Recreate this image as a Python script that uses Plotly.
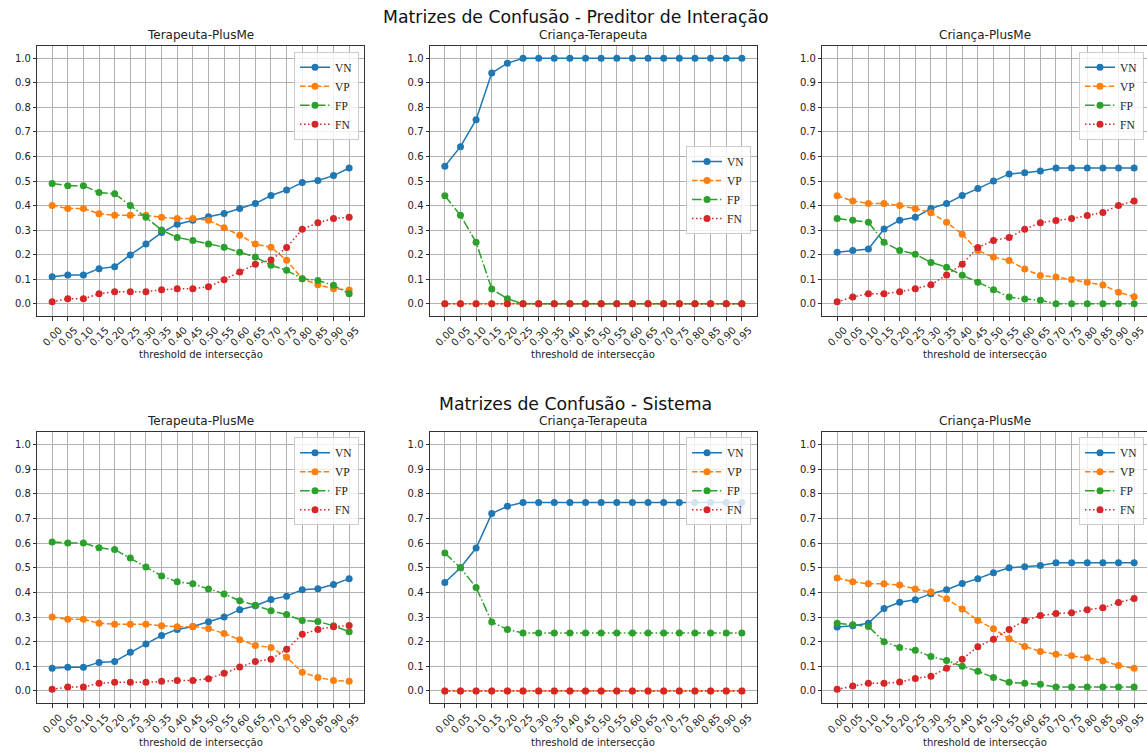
import plotly.graph_objects as go

# Intersection thresholds (x categories)
thresholds = [0.00, 0.05, 0.10, 0.15, 0.20, 0.25, 0.30, 0.35, 0.40, 0.45,
              0.50, 0.55, 0.60, 0.65, 0.70, 0.75, 0.80, 0.85, 0.90, 0.95]
tick_labels = ["0.00", "0.05", "0.10", "0.15", "0.20", "0.25", "0.30", "0.35", "0.40", "0.45",
               "0.50", "0.55", "0.60", "0.65", "0.70", "0.75", "0.80", "0.85", "0.90", "0.95"]
y_ticks = [0.0, 0.1, 0.2, 0.3, 0.4, 0.5, 0.6, 0.7, 0.8, 0.9, 1.0]

# --- Preditor de Interação ---
pi_tp_vn = [0.110, 0.117, 0.117, 0.143, 0.151, 0.199, 0.243, 0.290, 0.324, 0.340,
            0.354, 0.368, 0.388, 0.408, 0.441, 0.463, 0.494, 0.502, 0.522, 0.553]
pi_tp_vp = [0.400, 0.388, 0.388, 0.367, 0.360, 0.360, 0.360, 0.352, 0.347, 0.347,
            0.340, 0.310, 0.279, 0.243, 0.230, 0.177, 0.102, 0.077, 0.061, 0.056]
pi_tp_fp = [0.490, 0.481, 0.481, 0.453, 0.448, 0.400, 0.352, 0.300, 0.270, 0.258,
            0.243, 0.230, 0.210, 0.190, 0.157, 0.136, 0.102, 0.095, 0.075, 0.041]
pi_tp_fn = [0.008, 0.020, 0.020, 0.041, 0.049, 0.049, 0.049, 0.057, 0.061, 0.061,
            0.069, 0.098, 0.129, 0.161, 0.178, 0.229, 0.303, 0.330, 0.347, 0.352]

pi_ct_vn = [0.56, 0.64, 0.75, 0.94, 0.98, 1.00, 1.00, 1.00, 1.00, 1.00,
            1.00, 1.00, 1.00, 1.00, 1.00, 1.00, 1.00, 1.00, 1.00, 1.00]
pi_ct_vp = [0.0, 0.0, 0.0, 0.0, 0.0, 0.0, 0.0, 0.0, 0.0, 0.0,
            0.0, 0.0, 0.0, 0.0, 0.0, 0.0, 0.0, 0.0, 0.0, 0.0]
pi_ct_fp = [0.44, 0.36, 0.25, 0.06, 0.02, 0.0, 0.0, 0.0, 0.0, 0.0,
            0.0, 0.0, 0.0, 0.0, 0.0, 0.0, 0.0, 0.0, 0.0, 0.0]
pi_ct_fn = [0.0, 0.0, 0.0, 0.0, 0.0, 0.0, 0.0, 0.0, 0.0, 0.0,
            0.0, 0.0, 0.0, 0.0, 0.0, 0.0, 0.0, 0.0, 0.0, 0.0]

pi_cp_vn = [0.210, 0.217, 0.223, 0.304, 0.340, 0.352, 0.388, 0.408, 0.441, 0.469,
            0.500, 0.529, 0.534, 0.541, 0.553, 0.553, 0.553, 0.553, 0.553, 0.553]
pi_cp_vp = [0.440, 0.419, 0.408, 0.408, 0.400, 0.388, 0.371, 0.332, 0.283, 0.217,
            0.190, 0.176, 0.141, 0.115, 0.109, 0.099, 0.088, 0.076, 0.047, 0.028]
pi_cp_fp = [0.347, 0.340, 0.332, 0.250, 0.217, 0.202, 0.168, 0.149, 0.116, 0.088,
            0.057, 0.027, 0.019, 0.014, 0.000, 0.000, 0.000, 0.000, 0.000, 0.000]
pi_cp_fn = [0.008, 0.027, 0.041, 0.041, 0.049, 0.061, 0.077, 0.117, 0.161, 0.229,
            0.258, 0.270, 0.303, 0.330, 0.339, 0.347, 0.359, 0.372, 0.400, 0.419]

# --- Sistema ---
si_tp_vn = [0.092, 0.096, 0.096, 0.116, 0.120, 0.157, 0.191, 0.225, 0.250, 0.262,
            0.281, 0.300, 0.330, 0.346, 0.371, 0.385, 0.411, 0.415, 0.432, 0.456]
si_tp_vp = [0.300, 0.291, 0.291, 0.275, 0.271, 0.271, 0.271, 0.265, 0.261, 0.261,
            0.254, 0.233, 0.208, 0.185, 0.177, 0.137, 0.076, 0.055, 0.043, 0.039]
si_tp_fp = [0.605, 0.601, 0.601, 0.581, 0.574, 0.540, 0.503, 0.467, 0.443, 0.435,
            0.414, 0.394, 0.366, 0.348, 0.326, 0.310, 0.286, 0.282, 0.265, 0.240]
si_tp_fn = [0.007, 0.016, 0.016, 0.031, 0.035, 0.035, 0.035, 0.039, 0.043, 0.043,
            0.050, 0.072, 0.097, 0.120, 0.129, 0.169, 0.230, 0.250, 0.261, 0.266]

si_ct_vn = [0.44, 0.50, 0.58, 0.72, 0.75, 0.765, 0.765, 0.765, 0.765, 0.765,
            0.765, 0.765, 0.765, 0.765, 0.765, 0.765, 0.765, 0.765, 0.765, 0.765]
si_ct_vp = [0.0, 0.0, 0.0, 0.0, 0.0, 0.0, 0.0, 0.0, 0.0, 0.0,
            0.0, 0.0, 0.0, 0.0, 0.0, 0.0, 0.0, 0.0, 0.0, 0.0]
si_ct_fp = [0.56, 0.50, 0.42, 0.28, 0.25, 0.235, 0.235, 0.235, 0.235, 0.235,
            0.235, 0.235, 0.235, 0.235, 0.235, 0.235, 0.235, 0.235, 0.235, 0.235]
si_ct_fn = [0.0, 0.0, 0.0, 0.0, 0.0, 0.0, 0.0, 0.0, 0.0, 0.0,
            0.0, 0.0, 0.0, 0.0, 0.0, 0.0, 0.0, 0.0, 0.0, 0.0]

si_cp_vn = [0.260, 0.265, 0.275, 0.335, 0.360, 0.370, 0.395, 0.411, 0.436, 0.456,
            0.480, 0.500, 0.504, 0.509, 0.520, 0.520, 0.520, 0.520, 0.520, 0.520]
si_cp_vp = [0.459, 0.443, 0.435, 0.435, 0.430, 0.414, 0.402, 0.374, 0.333, 0.286,
            0.253, 0.212, 0.181, 0.160, 0.149, 0.143, 0.135, 0.123, 0.103, 0.092]
si_cp_fp = [0.275, 0.269, 0.262, 0.200, 0.177, 0.165, 0.140, 0.124, 0.100, 0.080,
            0.055, 0.035, 0.031, 0.027, 0.016, 0.016, 0.016, 0.016, 0.016, 0.016]
si_cp_fn = [0.007, 0.020, 0.031, 0.031, 0.036, 0.051, 0.060, 0.092, 0.129, 0.180,
            0.210, 0.250, 0.286, 0.306, 0.314, 0.318, 0.330, 0.338, 0.359, 0.375]

W, H = 1147, 752

series_names = ["VN", "VP", "FP", "FN"]
colors = ["#1f77b4", "#ff7f0e", "#2ca02c", "#d62728"]
dashes = ["solid", "5.5px,2.4px", "9.6px,2.4px,1.5px,2.4px", "1.5px,2.5px"]

panels = [
    dict(title="Terapeuta-PlusMe", data=[pi_tp_vn, pi_tp_vp, pi_tp_fp, pi_tp_fn],
         px=(37.3, 364.0), py=(46.0, 316.0), legend=(359.0, 51.7)),
    dict(title="Criança-Terapeuta", data=[pi_ct_vn, pi_ct_vp, pi_ct_fp, pi_ct_fn],
         px=(430.0, 756.7), py=(46.0, 316.0), legend=(751.0, 146.0)),
    dict(title="Criança-PlusMe", data=[pi_cp_vn, pi_cp_vp, pi_cp_fp, pi_cp_fn],
         px=(822.3, 1147.0), py=(46.0, 316.0), legend=(1144.0, 51.7)),
    dict(title="Terapeuta-PlusMe", data=[si_tp_vn, si_tp_vp, si_tp_fp, si_tp_fn],
         px=(37.3, 364.0), py=(432.3, 703.3), legend=(359.0, 437.3)),
    dict(title="Criança-Terapeuta", data=[si_ct_vn, si_ct_vp, si_ct_fp, si_ct_fn],
         px=(430.0, 756.7), py=(432.3, 703.3), legend=(751.0, 437.3)),
    dict(title="Criança-PlusMe", data=[si_cp_vn, si_cp_vp, si_cp_fp, si_cp_fn],
         px=(822.3, 1147.0), py=(432.3, 703.3), legend=(1144.0, 437.3)),
]

PX_PER_UNIT = 326.7 / 1.045  # horizontal pixels per threshold unit
X0 = -0.0475

fig = go.Figure()
layout = dict(
    width=W, height=H,
    margin=dict(l=0, r=0, t=0, b=0),
    paper_bgcolor="white", plot_bgcolor="white",
    font=dict(family="DejaVu Sans", color="#222222"),
    annotations=[],
)

for i, p in enumerate(panels):
    k = "" if i == 0 else str(i + 1)
    xa, ya = "x" + k, "y" + k
    leg = "legend" + k
    for name, vals, col, dash in zip(series_names, p["data"], colors, dashes):
        fig.add_trace(go.Scatter(
            x=thresholds, y=vals, name=name, mode="lines+markers",
            line=dict(color=col, width=1.5, dash=dash),
            marker=dict(color=col, size=7, symbol="circle", line=dict(width=0)),
            xaxis=xa, yaxis=ya, legend=leg,
        ))
    x_lo, x_hi = p["px"]
    y_top, y_bot = p["py"]
    x_end = X0 + (x_hi - x_lo) / PX_PER_UNIT
    axis_common = dict(
        showline=True, mirror=True, linecolor="#333333", linewidth=1,
        showgrid=True, gridcolor="#b0b0b0", gridwidth=0.8,
        ticks="outside", ticklen=3.5, tickcolor="#333333", tickwidth=0.8,
        tickfont=dict(size=10, family="DejaVu Sans", color="#222222"),
        zeroline=False,
    )
    layout["xaxis" + k] = dict(
        axis_common, domain=[x_lo / W, x_hi / W], range=[X0, x_end],
        tickmode="array", tickvals=thresholds, ticktext=tick_labels,
        tickangle=-45, ticklabelshift=7, ticklabeloverflow="allow", anchor=ya,
    )
    layout["yaxis" + k] = dict(
        axis_common, domain=[1 - y_bot / H, 1 - y_top / H], range=[-0.05, 1.05],
        tickmode="array", tickvals=y_ticks, ticktext=[f"{v:.1f}" for v in y_ticks],
        anchor=xa,
    )
    lx, ly = p["legend"]
    layout[leg] = dict(
        x=lx / W, y=1 - ly / H, xanchor="right", yanchor="top",
        xref="paper", yref="paper",
        bgcolor="rgba(255,255,255,0.8)", bordercolor="#cccccc", borderwidth=1,
        font=dict(family="Liberation Serif", size=11.5, color="#222222"),
        itemwidth=30, tracegroupgap=0,
    )
    xc = (x_lo + x_hi) / 2 / W
    layout["annotations"].append(dict(
        text=p["title"], x=xc, y=1 - (y_top - 11) / H, xref="paper", yref="paper",
        xanchor="center", yanchor="middle", showarrow=False,
        font=dict(size=12, family="DejaVu Sans", color="#222222"),
    ))
    layout["annotations"].append(dict(
        text="threshold de intersecção", x=xc, y=1 - (y_bot + 39) / H,
        xref="paper", yref="paper", xanchor="center", yanchor="middle", showarrow=False,
        font=dict(size=10, family="DejaVu Sans", color="#222222"),
    ))

for text, ypx in [("Matrizes de Confusão - Preditor de Interação", 17.0),
                  ("Matrizes de Confusão - Sistema", 404.0)]:
    layout["annotations"].append(dict(
        text=text, x=575.5 / W, y=1 - ypx / H, xref="paper", yref="paper",
        xanchor="center", yanchor="middle", showarrow=False,
        font=dict(size=17.3, family="DejaVu Sans", color="#111111"),
    ))

fig.update_layout(**layout)
fig.write_html("out.html")
